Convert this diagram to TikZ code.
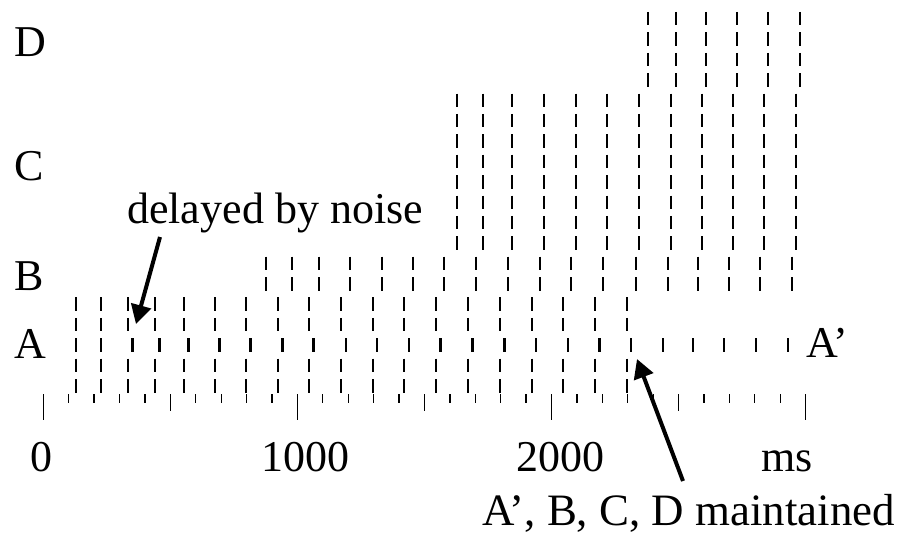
\documentclass[tikz,border=0pt]{standalone}
\usepackage{fontspec}
\setmainfont{Liberation Serif}
\usetikzlibrary{arrows.meta}
\tikzset{
  spk/.style={line width=2.3pt},
  tck/.style={line width=1.3pt},
  lbl/.style={inner sep=0pt, anchor=base west, font=\fontsize{44}{50}\selectfont},
  numlbl/.style={inner sep=0pt, anchor=base, font=\fontsize{44}{50}\selectfont},
  pointer/.style={line width=4pt, -{Triangle[length=19pt,width=20pt]}}
}
\newcommand\rowtop[1]{12+20.39*#1}
\begin{document}
\begin{tikzpicture}[x=1pt,y=-1pt]
\fill[white] (0,0) rectangle (904,540);
\useasboundingbox (0,0) rectangle (904,540);
% group A (rows 14,15,17,18)
\foreach \x in {75.7,101,128,155,184,215,246,278,309,341.3,372.7,404.3,436,468,500,531.7,563.3,595,626.7}{
  \foreach \r in {14,15,17,18}{\draw[spk] (\x,{\rowtop{\r}}) -- ++(0,13.5);}
}
% middle row A (not delayed, then delayed by noise)
\foreach \x in {75.7,101}{\draw[spk] (\x,{\rowtop{16}}) -- ++(0,13.5);}
\foreach \x in {128,155,184,215,246,278,309,341.3,372.7,404.3,436,468,500,531.7,563.3,595,626.7}{
  \draw[spk] ({\x+4.4},{\rowtop{16}}) -- ++(0,13.5);
}
% A' continuation
\foreach \x in {663.3,693.3,724.3,755.7,787.7}{\draw[spk] (\x,{\rowtop{16}}) -- ++(0,13.5);}
% group B
\foreach \x in {266,292.3,319,349.7,381.7,413,444.3,476,508,540,571,603.3,635.7,667.7,698.3,728.7,760.3,791.7}{
  \foreach \r in {12,13}{\draw[spk] (\x,{\rowtop{\r}}) -- ++(0,13.5);}
}
% group C
\foreach \x in {456.7,482.7,512,544,575.7,607,639,671,702,732.7,764,795.7}{
  \foreach \r in {4,...,11}{\draw[spk] (\x,{\rowtop{\r}}) -- ++(0,13.5);}
}
% group D
\foreach \x in {647.7,676,706,736.7,767.7,800}{
  \foreach \r in {0,...,3}{\draw[spk] (\x,{\rowtop{\r}}) -- ++(0,13.5);}
}
% time axis ticks
\foreach \k in {0,...,30}{
  \pgfmathsetmacro\tl{ifthenelse(mod(\k,10)==0,26,ifthenelse(mod(\k,5)==0,17,9))}
  \draw[tck] ({43.3+25.41*\k},394) -- ++(0,\tl);
}
% labels
\node[lbl] (labD) at (14,57) {D};
\node[lbl] (labC) at (14,180) {C};
\node[lbl] (labB) at (14,290) {B};
\node[lbl] (labA) at (14,358) {A};
\node[lbl] (labAp) at (806,357) {A’};
\node[numlbl] (t0) at (41,471) {0};
\node[numlbl] (t1000) at (305.5,471) {1000};
\node[numlbl] (t2000) at (560.5,471) {2000};
\node[numlbl] (tms) at (787,471) {ms};
\node[lbl] (noise) at (127,223) {delayed by noise};
\node[lbl, font=\fontsize{44.9}{50}\selectfont] (maint) at (482,525) {A’, B, C, D maintained};
% arrows
\coordinate (noisetail) at (160,237);
\coordinate (noisetip) at (136,324);
\coordinate (mainttail) at (683,481);
\coordinate (mainttip) at (637,359);
\draw[pointer] (noisetail) -- (noisetip);
\draw[pointer] (mainttail) -- (mainttip);
\end{tikzpicture}
\end{document}
